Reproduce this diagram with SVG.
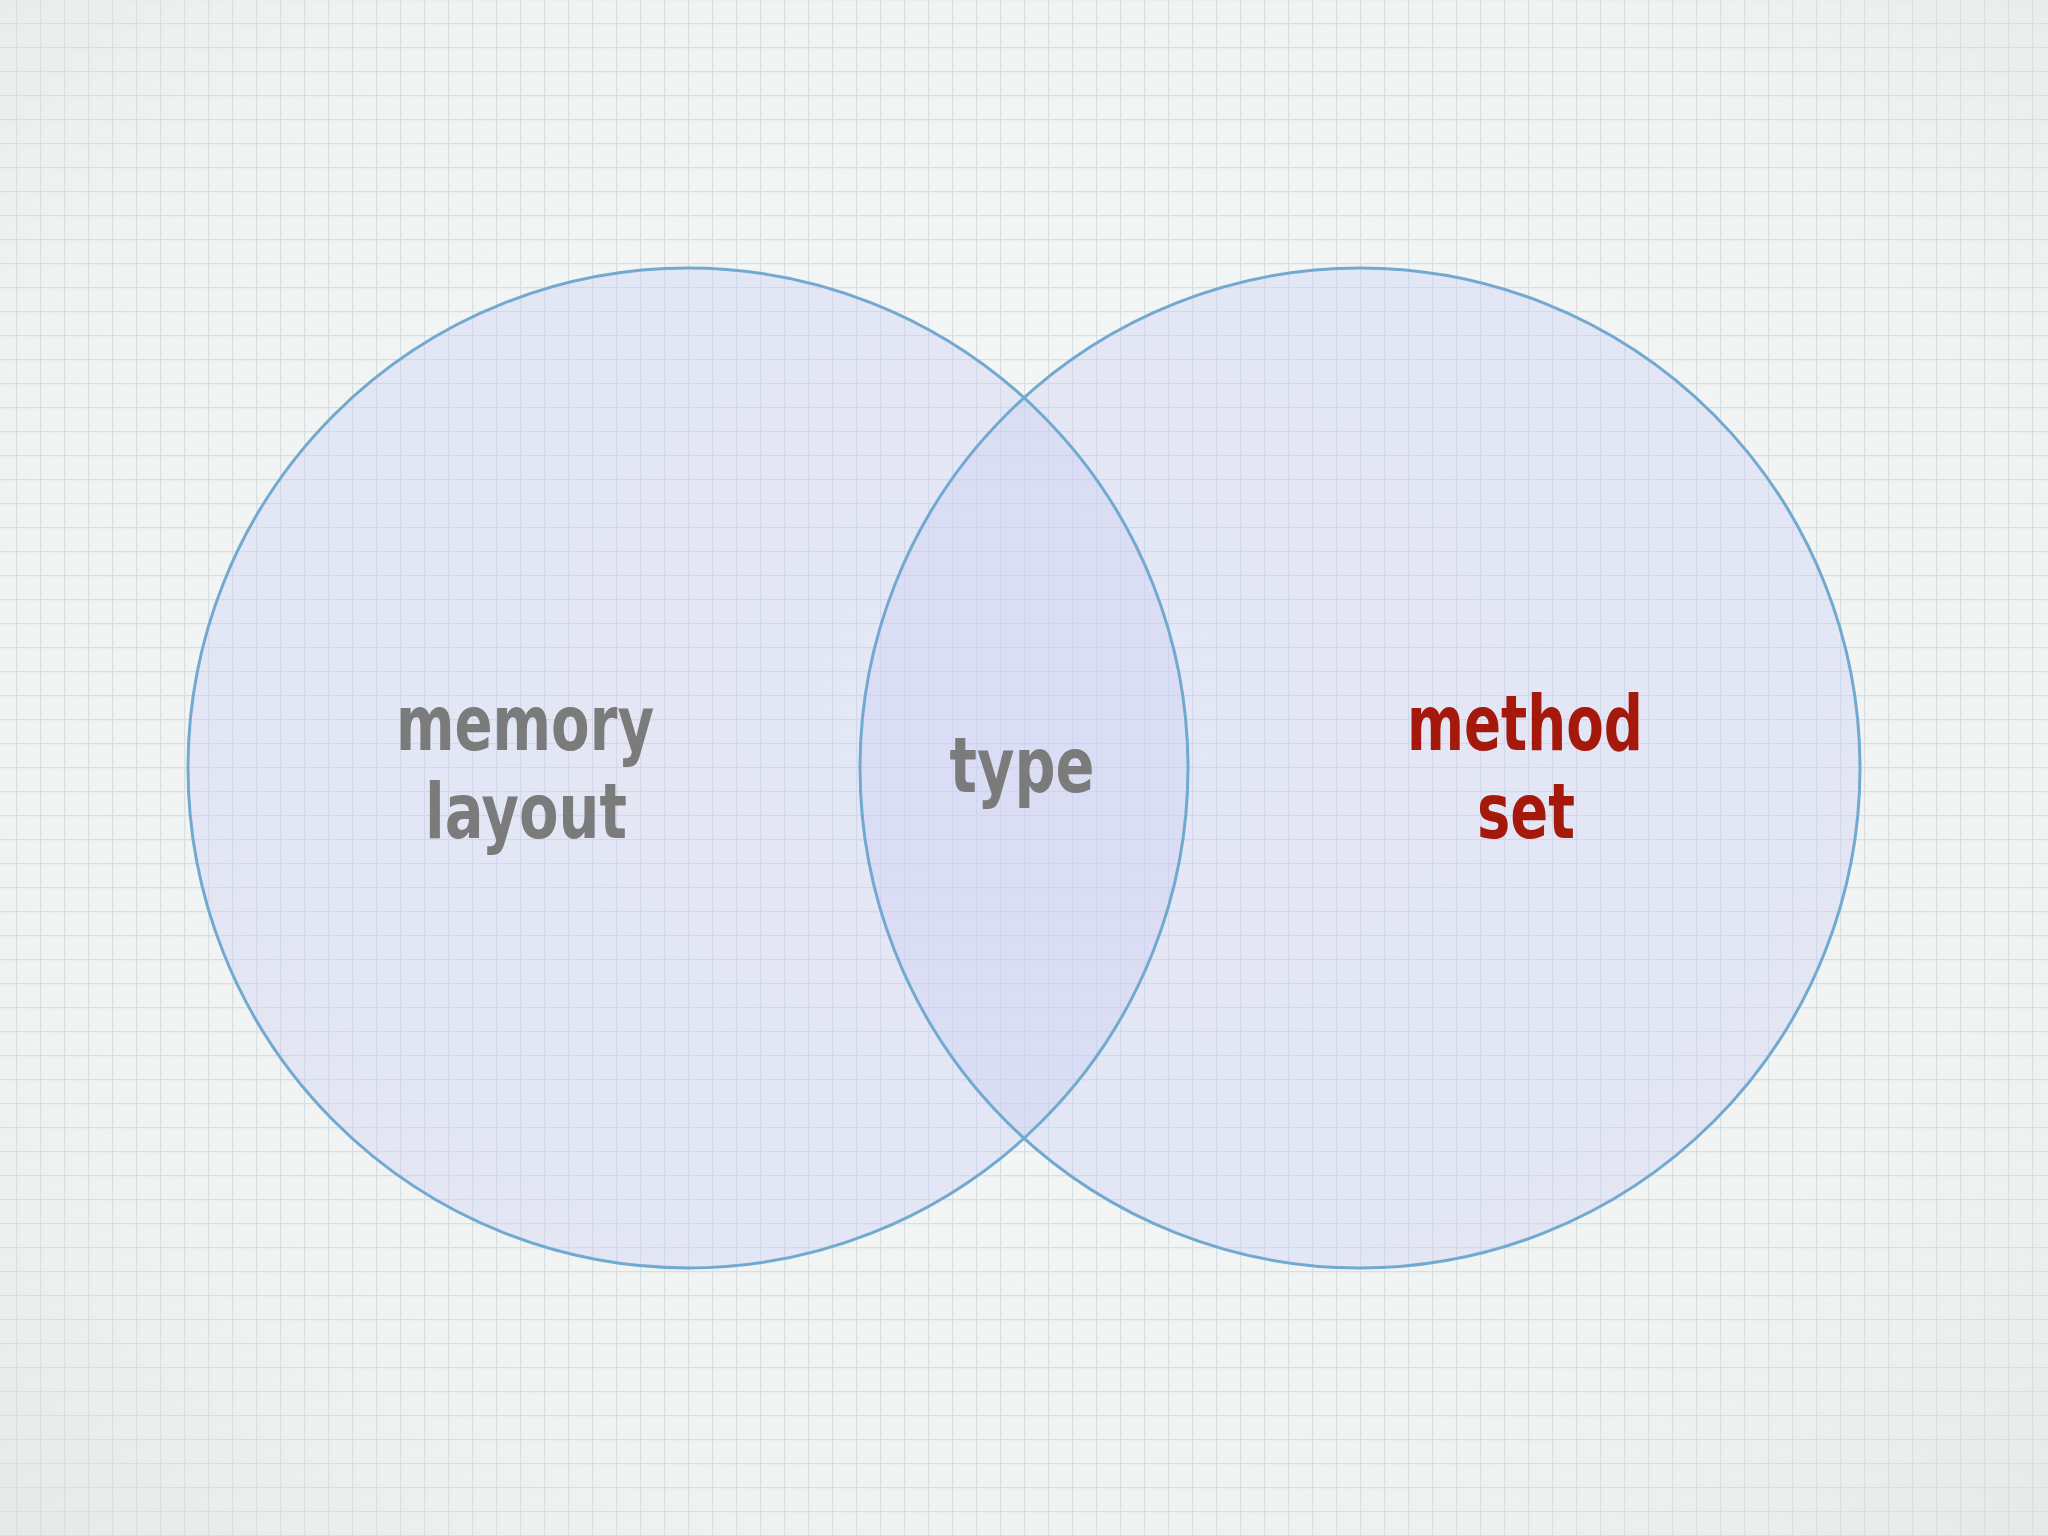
<svg xmlns="http://www.w3.org/2000/svg" width="2048" height="1536" viewBox="0 0 2048 1536">
  <defs>
    <radialGradient id="bg" cx="50%" cy="45%" r="75%">
      <stop offset="0" stop-color="#f6f7f7"/>
      <stop offset="0.7" stop-color="#f1f3f3"/>
      <stop offset="1" stop-color="#e6e9e8"/>
    </radialGradient>
    <pattern id="grid" x="16" y="23" width="24" height="24" patternUnits="userSpaceOnUse">
      <path d="M0.6 0 V24 M0 0.6 H24" fill="none" stroke="#d6dfe4" stroke-width="1.2"/>
    </pattern>
  </defs>
  <style>
    .fill { fill: #c8cdf5; fill-opacity: 0.36; stroke: none; }
    .ring { fill: none; stroke: #72a9d0; stroke-width: 3; }
    .lbl { font-family: "Liberation Sans Narrow", "DejaVu Sans Condensed", "Liberation Sans", sans-serif; font-weight: bold; font-size: 76px; text-anchor: middle; }
    .gray { fill: #7b7b7b; }
    .red { fill: #a5180c; }
  </style>
  <rect width="2048" height="1536" fill="url(#bg)"/>
  <rect width="2048" height="1536" fill="url(#grid)"/>

  <g id="memory-layout">
    <circle class="fill" cx="688" cy="768" r="500"/>
  </g>
  <g id="method-set">
    <circle class="fill" cx="1360" cy="768" r="500"/>
  </g>
  <g id="connectors"></g>
  <g id="outlines">
    <circle class="ring" cx="688" cy="768" r="500"/>
    <circle class="ring" cx="1360" cy="768" r="500"/>
  </g>
  <g id="labels">
    <text class="lbl gray" x="525" y="750" textLength="258" lengthAdjust="spacingAndGlyphs">memory</text>
    <text class="lbl gray" x="526" y="838" textLength="202" lengthAdjust="spacingAndGlyphs">layout</text>
  </g>
  <g id="type">
    <text class="lbl gray" x="1022" y="792" textLength="145" lengthAdjust="spacingAndGlyphs">type</text>
  </g>
  <g id="method-set-label">
    <text class="lbl red" x="1525" y="750" textLength="236" lengthAdjust="spacingAndGlyphs">method</text>
    <text class="lbl red" x="1526" y="838" textLength="98" lengthAdjust="spacingAndGlyphs">set</text>
  </g>
</svg>
